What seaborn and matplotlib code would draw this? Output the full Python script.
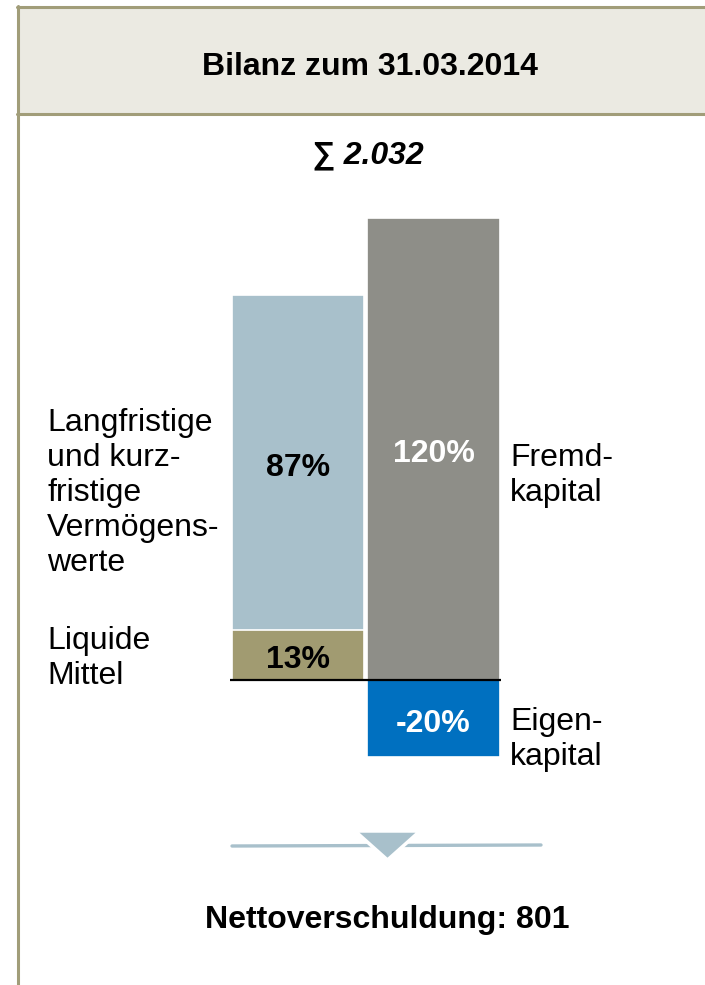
import matplotlib
matplotlib.use("Agg")
import matplotlib.pyplot as plt
from matplotlib.patches import Rectangle, Polygon
from matplotlib.lines import Line2D
import seaborn as sns
import pandas as pd

# ---- data ----
columns = ["Aktiva", "Aktiva", "Passiva", "Passiva"]
segments = ["Vermögenswerte", "Liquide Mittel", "Fremdkapital", "Eigenkapital"]
shares = [87, 13, 120, -20]          # percent of balance sheet total
bar_labels = ["87%", "13%", "120%", "-20%"]
title = "Bilanz zum 31.03.2014"
total_label = "\u2211 2.032"
net_debt_label = "Nettoverschuldung: 801"
left_labels = ["Langfristige\nund kurz-\nfristige\nVermögens-\nwerte", "Liquide\nMittel"]
right_labels = ["Fremd-\nkapital", "Eigen-\nkapital"]

sns.set_theme(style="white")
plt.rcParams["font.family"] = ["Liberation Sans", "DejaVu Sans"]

W, H = 705, 985
fig = plt.figure(figsize=(W / 100, H / 100), dpi=100)
fig.patch.set_facecolor("white")

def fx(x):
    return x / W

def fy(y):
    return 1 - y / H

FS = 23
LS = 1.22
border = "#A19D79"

# header band and frame
fig.add_artist(Rectangle((fx(17), fy(114)), fx(705) - fx(17), fy(7) - fy(114),
                         transform=fig.transFigure, facecolor="#EBEAE2", edgecolor="none", zorder=0))
fig.add_artist(Line2D([fx(17), fx(705)], [fy(7), fy(7)], transform=fig.transFigure, color=border, lw=2.2))
fig.add_artist(Line2D([fx(17), fx(705)], [fy(114), fy(114)], transform=fig.transFigure, color=border, lw=2.2))
fig.add_artist(Line2D([fx(18), fx(18)], [fy(6), fy(985)], transform=fig.transFigure, color=border, lw=2.2))

fig.text(fx(370), fy(67), title, ha="center", va="center", fontsize=FS, fontweight="bold", color="black")
fig.text(fx(368), fy(155), total_label, ha="center", va="center", fontsize=FS,
         fontweight="bold", fontstyle="italic", color="black")

# ---- bars ----
# stacked: draw cumulative tops so that later segments overlay earlier ones
tops = []
for i, (c, v) in enumerate(zip(columns, shares)):
    if v > 0:
        below = sum(s for cc, s in zip(columns[i + 1:], shares[i + 1:]) if cc == c and s > 0)
        tops.append(v + below)
    else:
        tops.append(v)
df = pd.DataFrame({"col": columns, "seg": segments, "top": tops, "val": shares})

palette = {"Vermögenswerte": "#A8C0CB", "Liquide Mittel": "#A19B71",
           "Fremdkapital": "#8E8E88", "Eigenkapital": "#0070C0"}

y0, y1 = -25, 125
px_per = 3.85
ax_bottom_px = 680 + (-y0) * px_per
ax_h_px = (y1 - y0) * px_per
ax = fig.add_axes([fx(230.25), fy(ax_bottom_px), 271 / W, ax_h_px / H])
sns.barplot(data=df, x="col", y="top", hue="seg", hue_order=segments, palette=palette,
            order=["Aktiva", "Passiva"], dodge=False, width=0.975, legend=False,
            edgecolor="white", linewidth=1.2, saturation=1, ax=ax, errorbar=None)
for p in ax.patches:
    p.set_edgecolor("white")
    p.set_linewidth(1.2)
ax.set_xlim(-0.5, 1.5)
ax.set_ylim(y0, y1)
ax.axis("off")
ax.axhline(0, color="black", lw=1.6, zorder=5)

# value labels at centers of segments
xpos = {"Aktiva": 0, "Passiva": 1}
lab_colors = ["black", "black", "white", "white"]
for c, seg, top, val, lab, lc in zip(columns, segments, tops, shares, bar_labels, lab_colors):
    center = top - val / 2
    ax.text(xpos[c], center - 1.4, lab, ha="center", va="center", fontsize=FS,
            fontweight="bold", color=lc, zorder=6)

# side labels
fig.text(fx(47), fy(408), left_labels[0], ha="left", va="top", fontsize=FS,
         linespacing=LS, color="black")
fig.text(fx(47), fy(626), left_labels[1], ha="left", va="top", fontsize=FS,
         linespacing=LS, color="black")
fig.text(fx(510), fy(443), right_labels[0], ha="left", va="top", fontsize=FS,
         linespacing=LS, color="black")
fig.text(fx(510), fy(707), right_labels[1], ha="left", va="top", fontsize=FS,
         linespacing=LS, color="black")

# divider with down arrow
lc_div = "#A8C0CB"
fig.add_artist(Line2D([fx(232), fx(541)], [fy(846), fy(845)], transform=fig.transFigure,
                      color=lc_div, lw=2.4))
fig.add_artist(Polygon([[fx(355), fy(831)], [fx(420), fy(831)], [fx(387.5), fy(860)]],
                       closed=True, transform=fig.transFigure, facecolor=lc_div,
                       edgecolor="white", lw=2.5, zorder=5))

fig.text(fx(387), fy(920), net_debt_label, ha="center", va="center", fontsize=FS,
         fontweight="bold", color="black")

fig.savefig("out.png", dpi=100, facecolor="white")
